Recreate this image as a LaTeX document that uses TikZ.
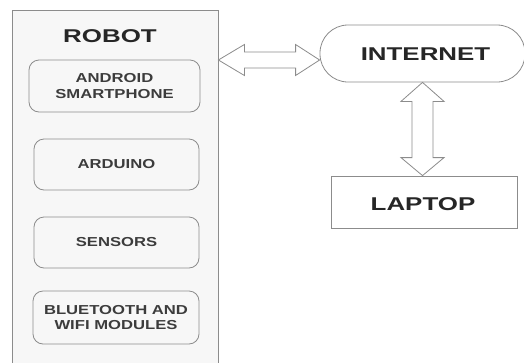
\documentclass[tikz,border=0pt]{standalone}
\usepackage{fontspec}
\setmainfont{Liberation Sans}
\newfontfamily\labelfont[FakeStretch=1.28]{Liberation Sans}
\newfontfamily\headfont[FakeStretch=1.4]{Liberation Sans}
\usetikzlibrary{calc}
\definecolor{edge}{HTML}{8C8C8C}
\definecolor{panel}{HTML}{F7F7F7}
\definecolor{ink}{HTML}{262626}
\definecolor{softink}{HTML}{3C3C3C}
\tikzset{
  outer/.style={draw=edge, fill=panel, line width=0.8pt, inner sep=0pt},
  part/.style={draw=edge, fill=panel, line width=0.8pt, rounded corners=10pt,
    inner sep=0pt, align=center, text=softink,
    font=\labelfont\bfseries\fontsize{13}{15.2}\selectfont},
  bigtext/.style={text=ink, inner sep=0pt,
    font=\headfont\bfseries\fontsize{18.5}{22}\selectfont},
  plainbox/.style={draw=edge, fill=white, line width=0.8pt, inner sep=0pt},
  arrowbody/.style={draw=edge, fill=white, line width=0.8pt, line join=miter},
}
\begin{document}
\begin{tikzpicture}[x=1pt, y=-1pt]
  \clip (0,0) rectangle (524,362);
  \useasboundingbox (0,0) rectangle (524,362);
  \fill[white] (0,0) rectangle (524,362);

  % robot enclosure and its components
  \node[outer, minimum width=206pt, minimum height=364pt] (robot) at (115,192) {};
  \node[bigtext] (title) at (110,36) {ROBOT};
  \node[part, minimum width=171pt, minimum height=52pt] (android) at (114.5,86) {ANDROID\\SMARTPHONE};
  \node[part, minimum width=165pt, minimum height=51pt] (arduino) at (116.5,164.5) {ARDUINO};
  \node[part, minimum width=165pt, minimum height=51pt] (sensors) at (116.5,242.5) {SENSORS};
  \node[part, minimum width=166pt, minimum height=53pt] (bt) at (116,317.5) {BLUETOOTH AND\\WIFI MODULES};

  % network side
  \node[plainbox, rounded corners=28pt, minimum width=205pt, minimum height=57pt] (internet) at (422.5,53.5) {};
  \node[bigtext] (internettext) at (425.5,54.3) {INTERNET};
  \node[plainbox, minimum width=186pt, minimum height=52pt] (laptop) at (424,202) {};
  \node[bigtext] (laptoptext) at (423,204) {LAPTOP};

  % robot <-> internet
  \coordinate (hl) at (robot.east |- 0,60);
  \coordinate (hr) at (internet.west |- hl);
  \draw[arrowbody] (hl) -- ($(hl)+(26,-15.5)$) -- ($(hl)+(26,-8)$)
    -- ($(hr)+(-24,-8)$) -- ($(hr)+(-24,-15.5)$) -- (hr)
    -- ($(hr)+(-24,15.5)$) -- ($(hr)+(-24,8)$)
    -- ($(hl)+(26,8)$) -- ($(hl)+(26,15.5)$) -- cycle;

  % internet <-> laptop
  \coordinate (vt) at (internet.south);
  \coordinate (vb) at (laptop.north -| vt);
  \draw[arrowbody] (vt) -- ($(vt)+(21.5,19)$) -- ($(vt)+(10.5,19)$)
    -- ($(vb)+(10.5,-18)$) -- ($(vb)+(21.5,-18)$) -- (vb)
    -- ($(vb)+(-21.5,-18)$) -- ($(vb)+(-10.5,-18)$)
    -- ($(vt)+(-10.5,19)$) -- ($(vt)+(-21.5,19)$) -- cycle;
\end{tikzpicture}
\end{document}
